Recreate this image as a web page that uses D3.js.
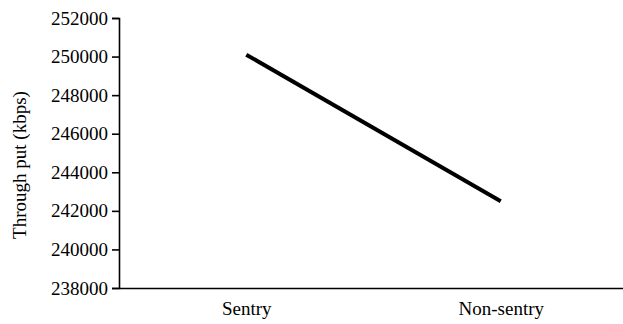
<!DOCTYPE html>
<html><head><meta charset="utf-8">
<script src="https://cdn.jsdelivr.net/npm/d3@7"></script>
<style>body{margin:0;background:#fff}svg{display:block}</style>
</head><body>
<script>
const categories = ["Sentry", "Non-sentry"];
const throughput = [250100, 242500];
const yTicks = [238000, 240000, 242000, 244000, 246000, 248000, 250000, 252000];
const yTitle = "Through put (kbps)";

const W = 623, H = 324;
const svg = d3.select("body").append("svg").attr("width", W).attr("height", H);
const font = "'Liberation Serif','Times New Roman',serif";

const x = d3.scalePoint().domain(categories).range([119, 628]).padding(0.5);
const y = d3.scaleLinear().domain([238000, 252000]).range([288, 18]);

const yAxis = svg.append("g").attr("transform", "translate(119,0)")
  .call(d3.axisLeft(y).tickValues(yTicks).tickFormat(d3.format("d")).tickSize(7).tickPadding(4));
yAxis.select(".domain").attr("stroke", "#000").attr("stroke-width", 1.6);
yAxis.selectAll(".tick line").attr("stroke", "#000").attr("stroke-width", 1.6);
yAxis.selectAll(".tick text").attr("font-family", font).attr("font-size", 19).attr("fill", "#000");

const xAxis = svg.append("g").attr("transform", "translate(0,288)")
  .call(d3.axisBottom(x).tickSize(0).tickPadding(14));
xAxis.select(".domain").attr("stroke", "#000").attr("stroke-width", 1.6);
xAxis.selectAll(".tick text").attr("font-family", font).attr("font-size", 19).attr("fill", "#000");

svg.append("text")
  .attr("transform", "translate(26,165) rotate(-90)")
  .attr("text-anchor", "middle")
  .attr("font-family", font).attr("font-size", 19).attr("fill", "#000")
  .text(yTitle);

const line = d3.line().x((d, i) => x(categories[i])).y(d => y(d));
svg.append("path").datum(throughput)
  .attr("d", line).attr("fill", "none").attr("stroke", "#000").attr("stroke-width", 4);
</script>
</body></html>
